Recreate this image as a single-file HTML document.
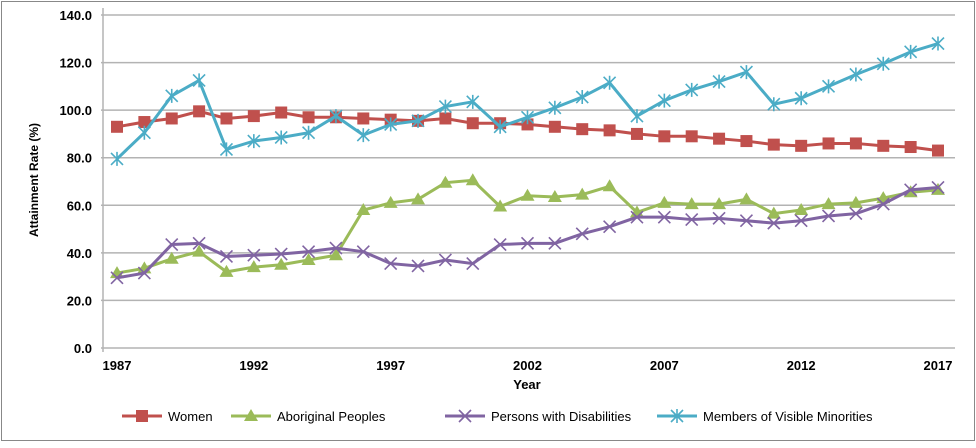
<!DOCTYPE html>
<html><head><meta charset="utf-8"><style>
body{margin:0;background:#fff;font-family:"Liberation Sans",sans-serif;}
</style></head><body>
<svg id="chart" width="976" height="443" xmlns="http://www.w3.org/2000/svg">
<rect x="1.5" y="1.5" width="973" height="439" fill="#fff" stroke="#888" stroke-width="1"/>
<g id="grid"></g><g id="axes"></g><g id="series"></g><g id="legend"></g>
</svg>
<script>
const years=[];for(let y=1987;y<=2017;y++)years.push(y);
const yTicks=[0,20,40,60,80,100,120,140];
const xTickYears=[1987,1992,1997,2002,2007,2012,2017];
const women=[93,95,96.5,99.5,96.5,97.5,99,97,97,96.5,96,95.5,96.5,94.5,94.5,94,93,92,91.5,90,89,89,88,87,85.5,85,86,86,85,84.5,83];
const aboriginal=[31.5,33.5,37.5,40.5,32,34,35,37,39,58,61,62.5,69.5,70.5,59.5,64,63.5,64.5,68,57,61,60.5,60.5,62.5,56.5,58,60.5,61,63,65.5,66.5];
const disabilities=[29.5,31.5,43.5,44,38.5,39,39.5,40.5,42,40.5,35.5,34.5,37,35.5,43.5,44,44,48,51,55,55,54,54.5,53.5,52.5,53.5,55.5,56.5,60.5,66.5,67.5];
const minorities=[79.5,90.5,106,112.5,83.5,87,88.5,90.5,97.5,89.5,94,95.5,101.5,103.5,93,97,101,105.5,111.5,97.5,104,108.5,112,116,102.5,105,110,115,119.5,124.5,128];
const NS="http://www.w3.org/2000/svg";
const X0=117,X1=938,Y0=348,Y1=15;
const xs=y=>X0+(y-1987)*(X1-X0)/30;
const ys=v=>Y0-v*(Y0-Y1)/140;
function mk(t,a,p){const e=document.createElementNS(NS,t);for(const k in a)e.setAttribute(k,a[k]);p.appendChild(e);return e;}
const grid=document.getElementById('grid'),axes=document.getElementById('axes'),ser=document.getElementById('series'),leg=document.getElementById('legend');
yTicks.forEach(v=>{
 const l=mk('line',{x1:101,x2:955,y1:ys(v),y2:ys(v),stroke:'#b3b3b3','stroke-width':1.5},grid);
 
 
 const t=mk('text',{x:92,y:ys(v)+5,'text-anchor':'end','font-size':13,'font-weight':'bold',fill:'#000'},axes);
 t.textContent=v.toFixed(1);
 
 
});
const ax=mk('line',{x1:103,x2:103,y1:8,y2:352,stroke:'#b3b3b3','stroke-width':1.5},axes);


xTickYears.forEach(y=>{
 const t=mk('text',{x:xs(y),y:370,'text-anchor':'middle','font-size':13,'font-weight':'bold'},axes);
 t.textContent=y;
 
 
});
const xt=mk('text',{x:527,y:389,'text-anchor':'middle','font-size':13,'font-weight':'bold'},axes);xt.textContent='Year';


const yt=mk('text',{x:0,y:0,transform:'translate(38,180) rotate(-90)','text-anchor':'middle','font-size':12,'font-weight':'bold'},axes);yt.textContent='Attainment Rate (%)';


function marker(type,x,y,c,g){
 if(type==='sq')mk('rect',{x:x-6,y:y-6,width:12,height:12,fill:c},g);
 else if(type==='tri')mk('path',{d:`M${x} ${y-7}L${x+7} ${y+5}L${x-7} ${y+5}Z`,fill:c},g);
 else if(type==='x')mk('path',{d:`M${x-6} ${y-6}L${x+6} ${y+6}M${x-6} ${y+6}L${x+6} ${y-6}`,stroke:c,'stroke-width':1.6,fill:'none'},g);
 else mk('path',{d:`M${x-6} ${y-6}L${x+6} ${y+6}M${x-6} ${y+6}L${x+6} ${y-6}M${x} ${y-7}L${x} ${y+7}`,stroke:c,'stroke-width':1.6,fill:'none'},g);
}
const defs=[['women','Women',women,'#c0504d','sq'],['aboriginal','Aboriginal Peoples',aboriginal,'#9bbb59','tri'],['disabilities','Persons with Disabilities',disabilities,'#8064a2','x'],['minorities','Members of Visible Minorities',minorities,'#4bacc6','star']];
defs.forEach(([id,name,data,c,m])=>{
 const g=mk('g',{},ser);
 
 
 mk('polyline',{points:data.map((v,i)=>xs(years[i])+','+ys(v)).join(' '),fill:'none',stroke:c,'stroke-width':3},g);
 data.forEach((v,i)=>marker(m,xs(years[i]),ys(v),c,g));
});
const lx=[122,231,445,657];
defs.forEach(([id,name,data,c,m],i)=>{
 const g=mk('g',{},leg);
 
 
 mk('line',{x1:lx[i],x2:lx[i]+40,y1:416,y2:416,stroke:c,'stroke-width':3},g);
 marker(m,lx[i]+20,416,c,g);
 const t=mk('text',{x:lx[i]+46,y:421,'font-size':13,fill:'#000'},g);t.textContent=name;
});
</script>
</body></html>
